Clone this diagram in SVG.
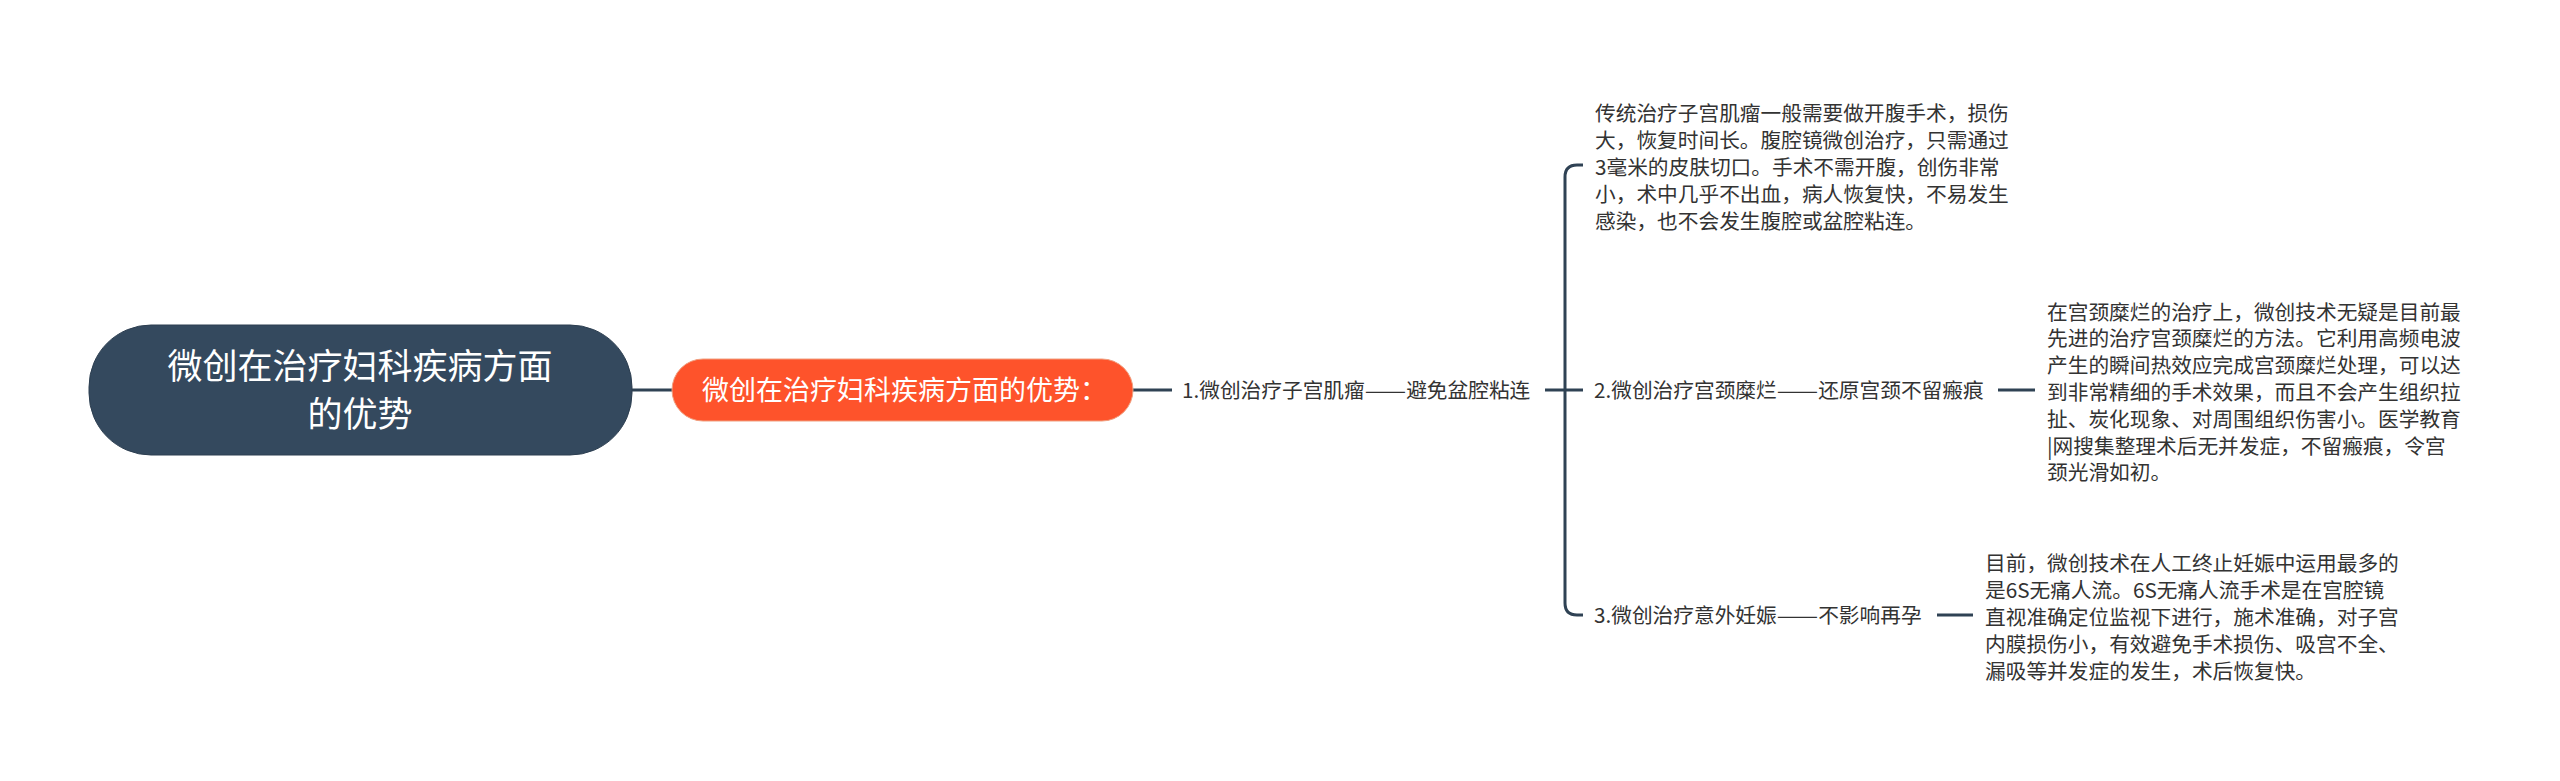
<svg xmlns="http://www.w3.org/2000/svg" width="2560" height="781" viewBox="0 0 2560 781">
<style>
.conn{fill:none;stroke:#2f4254;stroke-width:3;stroke-linecap:butt}
.cjk{font-family:"Noto Sans CJK SC","Liberation Sans",sans-serif}
.lbl{font-size:20.7px;fill:#333333}
.rootTxt{font-size:35px;fill:#ffffff}
.subTxt{font-size:27px;fill:#ffffff}
</style>
<rect width="2560" height="781" fill="#ffffff"/>
<g id="connectors">
<line class="conn" x1="630" y1="390" x2="674" y2="390"/>
<line class="conn" x1="1131" y1="390" x2="1172" y2="390"/>
<line class="conn" x1="1545" y1="390" x2="1583" y2="390"/>
<path class="conn" d="M1583,165 H1577 Q1565,165 1565,177 V603 Q1565,615 1577,615 H1583"/>
<line class="conn" x1="1998" y1="390" x2="2035" y2="390"/>
<line class="conn" x1="1937" y1="615" x2="1973" y2="615"/>
</g>
<g id="root">
<rect x="89" y="325" width="543" height="130" rx="62" ry="62" fill="#34495e" stroke="#2c3e50" stroke-width="1"/>
<text class="cjk rootTxt" x="360" text-anchor="middle"><tspan x="360" y="379">微创在治疗妇科疾病方面</tspan><tspan x="360" y="427">的优势</tspan></text>
</g>
<g id="sub">
<rect x="672" y="359" width="461" height="62" rx="31" ry="31" fill="#fe532b" stroke="#f0a080" stroke-width="1"/>
<text class="cjk subTxt" x="702" y="399.5">微创在治疗妇科疾病方面的优势：</text>
</g>
<g id="item1">
<text class="cjk lbl" x="1182" y="398">1.微创治疗子宫肌瘤<tspan textLength="41.4" lengthAdjust="spacingAndGlyphs">——</tspan>避免盆腔粘连</text>
</g>
<g id="item2">
<text class="cjk lbl" x="1594" y="398">2.微创治疗宫颈糜烂<tspan textLength="41.4" lengthAdjust="spacingAndGlyphs">——</tspan>还原宫颈不留瘢痕</text>
</g>
<g id="item3">
<text class="cjk lbl" x="1594" y="623">3.微创治疗意外妊娠<tspan textLength="41.4" lengthAdjust="spacingAndGlyphs">——</tspan>不影响再孕</text>
</g>
<g id="detail1">
<text class="cjk lbl" x="1595"><tspan x="1595" y="121">传统治疗子宫肌瘤一般需要做开腹手术，损伤</tspan><tspan x="1595" y="148">大，恢复时间长。腹腔镜微创治疗，只需通过</tspan><tspan x="1595" y="175">3毫米的皮肤切口。手术不需开腹，创伤非常</tspan><tspan x="1595" y="202">小，术中几乎不出血，病人恢复快，不易发生</tspan><tspan x="1595" y="229">感染，也不会发生腹腔或盆腔粘连。</tspan></text>
</g>
<g id="detail2">
<text class="cjk lbl" x="2047"><tspan x="2047" y="319.5">在宫颈糜烂的治疗上，微创技术无疑是目前最</tspan><tspan x="2047" y="346.3">先进的治疗宫颈糜烂的方法。它利用高频电波</tspan><tspan x="2047" y="373">产生的瞬间热效应完成宫颈糜烂处理，可以达</tspan><tspan x="2047" y="400">到非常精细的手术效果，而且不会产生组织拉</tspan><tspan x="2047" y="426.7">扯、炭化现象、对周围组织伤害小。医学教育</tspan><tspan x="2047" y="453.5">|网搜集整理术后无并发症，不留瘢痕，令宫</tspan><tspan x="2047" y="480.3">颈光滑如初。</tspan></text>
</g>
<g id="detail3">
<text class="cjk lbl" x="1985"><tspan x="1985" y="571">目前，微创技术在人工终止妊娠中运用最多的</tspan><tspan x="1985" y="598">是6S无痛人流。6S无痛人流手术是在宫腔镜</tspan><tspan x="1985" y="625">直视准确定位监视下进行，施术准确，对子宫</tspan><tspan x="1985" y="652">内膜损伤小，有效避免手术损伤、吸宫不全、</tspan><tspan x="1985" y="679">漏吸等并发症的发生，术后恢复快。</tspan></text>
</g>
</svg>
